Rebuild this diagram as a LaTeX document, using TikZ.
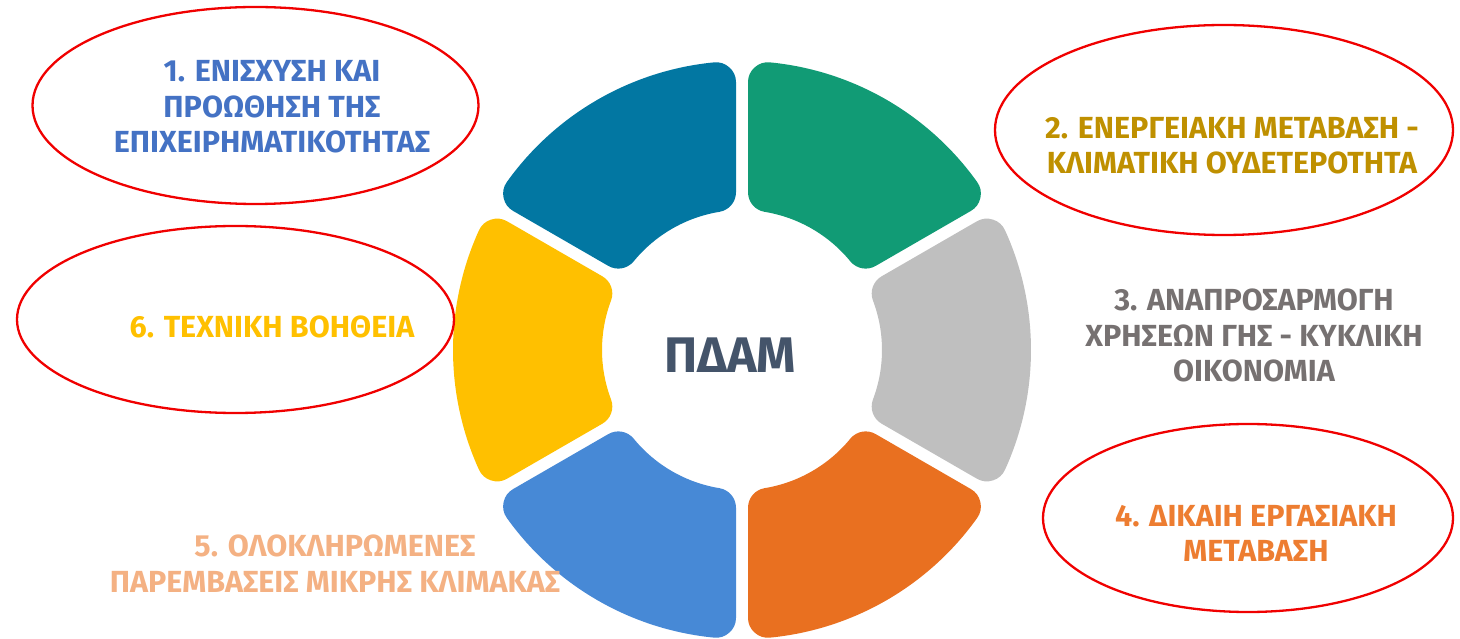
\documentclass[tikz,border=0pt]{standalone}
\usepackage{fontspec}
\setmainfont{Fira Sans}
\usetikzlibrary{calc,shapes.geometric}
\definecolor{segteal}{HTML}{0277A2}
\definecolor{seggreen}{HTML}{119B75}
\definecolor{seggray}{HTML}{BFBFBF}
\definecolor{segorange}{HTML}{E97020}
\definecolor{segblue}{HTML}{4789D6}
\definecolor{segyellow}{HTML}{FFC000}
\definecolor{tblue}{HTML}{4472C4}
\definecolor{tgold}{HTML}{BF9000}
\definecolor{tgray}{HTML}{767171}
\definecolor{torange}{HTML}{ED7D31}
\definecolor{tpeach}{HTML}{F4B183}
\definecolor{tyellow}{HTML}{FFC000}
\definecolor{tdark}{HTML}{44546A}
\definecolor{ellred}{HTML}{F00000}
\begin{document}
\begin{tikzpicture}[x=1pt,y=1pt,
  ell/.style={draw=ellred, line width=2.3pt, ellipse, inner sep=0pt},
  lbl/.style={font=\fontsize{30.5}{35.5}\selectfont\bfseries, align=center, inner sep=0pt},
  segshape/.style={line width=40pt, line join=round}]
\useasboundingbox (0,0) rectangle (1460,638);
\clip (0,0) rectangle (1460,638);
\coordinate (C) at (742,288);
% ring segments: shrunk annular sectors stroked with round joins
\pgfmathsetmacro{\Ro}{269}
\pgfmathsetmacro{\Ri}{160}
\pgfmathsetmacro{\dRo}{asin(26/269)}
\pgfmathsetmacro{\dRi}{asin(26/160)}
\foreach \a/\col in {90/segteal, 30/seggreen, -30/seggray, -90/segorange, 210/segblue, 150/segyellow}{
  \pgfmathsetmacro{\sa}{\a+\dRo}
  \pgfmathsetmacro{\ea}{\a+60-\dRo}
  \pgfmathsetmacro{\si}{\a+60-\dRi}
  \pgfmathsetmacro{\ei}{\a+\dRi}
  \filldraw[segshape, fill=\col, draw=\col]
    ($(C)+(\sa:\Ro)$) arc[start angle=\sa, end angle=\ea, radius=\Ro]
    -- ($(C)+(\si:\Ri)$) arc[start angle=\si, end angle=\ei, radius=\Ri] -- cycle;
}
\node[font=\fontsize{50}{60}\selectfont\bfseries, text=tdark, inner sep=0pt] (center) at (730,283) {ΠΔΑΜ};
% ellipses
\node[ell, minimum width=446pt, minimum height=197pt] (e1) at (255.5,532.5) {};
\node[ell, minimum width=458pt, minimum height=210pt] (e2) at (1224,508) {};
\node[ell, minimum width=410pt, minimum height=188pt] (e4) at (1248,120) {};
\node[ell, minimum width=437pt, minimum height=187pt] (e6) at (235.5,318.5) {};
% labels
\node[lbl, text=tblue] (t1) at (272,531) {1. ΕΝΙΣΧΥΣΗ ΚΑΙ\\ΠΡΟΩΘΗΣΗ ΤΗΣ\\ΕΠΙΧΕΙΡΗΜΑΤΙΚΟΤΗΤΑΣ};
\node[lbl, text=tgold] (t2) at (1232,492.5) {2. ΕΝΕΡΓΕΙΑΚΗ ΜΕΤΑΒΑΣΗ -\\ΚΛΙΜΑΤΙΚΗ ΟΥΔΕΤΕΡΟΤΗΤΑ};
\node[lbl, text=tgray] (t3) at (1254,302.5) {3. ΑΝΑΠΡΟΣΑΡΜΟΓΗ\\ΧΡΗΣΕΩΝ ΓΗΣ - ΚΥΚΛΙΚΗ\\ΟΙΚΟΝΟΜΙΑ};
\node[lbl, text=torange] (t4) at (1256,104.5) {4. ΔΙΚΑΙΗ ΕΡΓΑΣΙΑΚΗ\\ΜΕΤΑΒΑΣΗ};
\node[lbl, text=tpeach] (t5) at (335,74.5) {5. ΟΛΟΚΛΗΡΩΜΕΝΕΣ\\ΠΑΡΕΜΒΑΣΕΙΣ ΜΙΚΡΗΣ ΚΛΙΜΑΚΑΣ};
\node[lbl, text=tyellow] (t6) at (272,311) {6. ΤΕΧΝΙΚΗ ΒΟΗΘΕΙΑ};
\end{tikzpicture}
\end{document}
